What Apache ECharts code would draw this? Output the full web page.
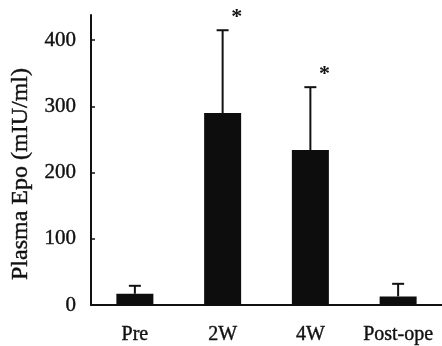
<!DOCTYPE html>
<html>
<head>
<meta charset="utf-8">
<script src="https://cdn.jsdelivr.net/npm/echarts@6/dist/echarts.min.js"></script>
<style>html,body{margin:0;padding:0;background:#fff;}#c{width:442px;height:346px;}</style>
</head>
<body>
<div id="c"></div>
<script>
var categories = ['Pre', '2W', '4W', 'Post-ope'];
var means = [17, 290, 234, 13];
var upperErr = [29, 415, 329, 32];
var sigMarks = ['', '*', '*', ''];
var yTicks = [0, 100, 200, 300, 400];

var FONT = 'Liberation Serif';
var chart = echarts.init(document.getElementById('c'));
chart.setOption({
  backgroundColor: '#ffffff',
  animation: false,
  grid: { left: 91, right: -9, top: 15, bottom: 41 },
  xAxis: {
    type: 'category',
    data: categories,
    axisLine: { lineStyle: { color: '#111', width: 2 } },
    axisTick: { show: false },
    axisLabel: { interval: 0, hideOverlap: false, color: '#111', fontFamily: FONT, fontSize: 20, margin: 20, textBorderColor: '#111', textBorderWidth: 0.4 }
  },
  yAxis: {
    type: 'value',
    min: 0,
    max: 438,
    interval: 100,
    name: 'Plasma Epo (mIU/ml)',
    nameLocation: 'middle',
    nameGap: 58,
    nameTextStyle: { color: '#111', fontFamily: FONT, fontSize: 24, padding: [0, 28, 0, 0], textBorderColor: '#111', textBorderWidth: 0.4 },
    splitLine: { show: false },
    axisLine: { show: true, lineStyle: { color: '#111', width: 2 } },
    axisTick: { show: true, inside: true, length: 4, customValues: yTicks, lineStyle: { color: '#111', width: 1.5 } },
    axisLabel: { color: '#111', fontFamily: FONT, fontSize: 21, margin: 15, customValues: yTicks, textBorderColor: '#111', textBorderWidth: 0.4 }
  },
  series: [
    {
      type: 'bar',
      data: means,
      barWidth: 37,
      itemStyle: { color: '#0d0d0d' },
      z: 3
    },
    {
      type: 'custom',
      z: 2,
      data: categories.map(function (c, i) { return [i, means[i], upperErr[i]]; }),
      renderItem: function (params, api) {
        var i = api.value(0);
        var top = api.coord([i, api.value(2)]);
        var base = api.coord([i, api.value(1)]);
        var children = [
          { type: 'line', shape: { x1: top[0], y1: top[1], x2: base[0], y2: base[1] }, style: { stroke: '#111', lineWidth: 2 } },
          { type: 'line', shape: { x1: top[0] - 6, y1: top[1], x2: top[0] + 6, y2: top[1] }, style: { stroke: '#111', lineWidth: 2 } }
        ];
        if (sigMarks[i]) {
          children.push({ type: 'text', x: top[0] + 14, y: top[1] - 13, style: { text: sigMarks[i], fill: '#111', font: 'bold 22px "Liberation Serif"', align: 'center', verticalAlign: 'middle' } });
        }
        return { type: 'group', children: children };
      }
    }
  ]
});
</script>
</body>
</html>
